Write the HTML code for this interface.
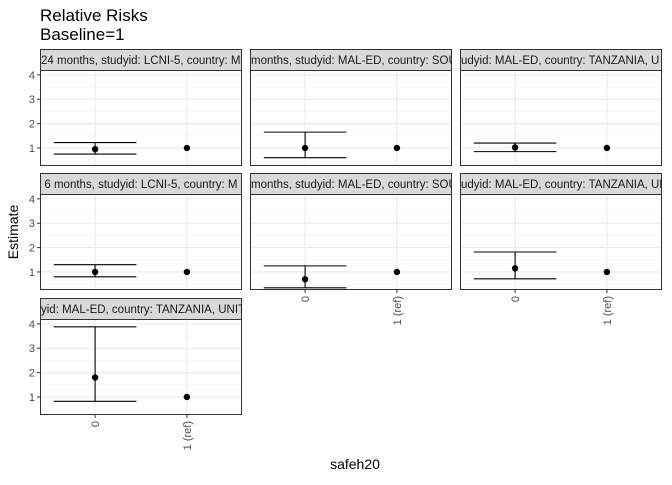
<!DOCTYPE html>
<html><head><meta charset="utf-8"><style>
body{margin:0;background:#fff;}
svg{font-family:"Liberation Sans",sans-serif;}
</style></head><body>
<svg id="c" width="672" height="480" xmlns="http://www.w3.org/2000/svg">
<text x="40" y="21" font-size="17" fill="#000">Relative Risks</text>
<text x="40" y="40" font-size="17" fill="#000">Baseline=1</text>
<text x="355" y="469" font-size="14" text-anchor="middle">safeh20</text>
<text transform="translate(18,232) rotate(-90)" font-size="14" text-anchor="middle">Estimate</text>
<g id="panels"></g>
</svg>
<script>
const stripLabels=["24 months, studyid: LCNI-5, country: M","months, studyid: MAL-ED, country: SOU","udyid: MAL-ED, country: TANZANIA, U","t 6 months, studyid: LCNI-5, country: M","months, studyid: MAL-ED, country: SOU","udyid: MAL-ED, country: TANZANIA, UN","yid: MAL-ED, country: TANZANIA, UNIT"];
const stripOffsets=[-2,-2,-2,-5,-2,-2,-2];
const categories=["0","1 (ref)"];
const estimates=[0.95,1.0,1.02,1.0,0.7,1.15,1.8];
const lowerCI=[0.75,0.6,0.85,0.8,0.35,0.72,0.82];
const upperCI=[1.22,1.65,1.2,1.3,1.25,1.82,3.88];
const refValues=[1,1,1,1,1,1,1];
const yTicks=[1,2,3,4];
const NS="http://www.w3.org/2000/svg";
const g=document.getElementById('panels');
function mk(t,a,p){const e=document.createElementNS(NS,t);for(const k in a)e.setAttribute(k,a[k]);(p||g).appendChild(e);return e;}
const colX=[40,250,460],rowY=[49,173,298],PW=202,SH=21,PH=96;
const yMin=0.26,yMax=4.2;
for(let i=0;i<7;i++){
  const c=i%3,r=Math.floor(i/3);
  const x0=colX[c],sy=rowY[r],py=sy+SH;
  const ys=v=>py+PH-(v-yMin)/(yMax-yMin)*PH;
  const xs=k=>x0+(k+1-0.4)/2.2*PW;
  const grp=mk('g',{});
  
  
  mk('rect',{x:x0,y:py,width:PW,height:PH,fill:'#fff'},grp);
  for(let t=0;t<yTicks.length;t++){
    const v=yTicks[t];
    mk('line',{x1:x0,x2:x0+PW,y1:ys(v),y2:ys(v),stroke:'#ebebeb','stroke-width':1.1},grp);
    mk('line',{x1:x0,x2:x0+PW,y1:ys(v-0.5),y2:ys(v-0.5),stroke:'#f3f3f3','stroke-width':0.6},grp);
    if(c===0){
      mk('line',{x1:x0-3,x2:x0,y1:ys(v),y2:ys(v),stroke:'#333'},grp);
      const tl=mk('text',{x:x0-5,y:ys(v)+4,'font-size':11,fill:'#4d4d4d','text-anchor':'end'},grp);
      tl.textContent=v;
      
      
    }
  }
  for(let k=0;k<categories.length;k++){
    mk('line',{x1:xs(k),x2:xs(k),y1:py,y2:py+PH,stroke:'#ebebeb','stroke-width':1.1},grp);
  }
  const xc=xs(0),hw=0.45*PW/2.2;
  const eb=mk('g',{stroke:'#000','stroke-width':1.1},grp);
  
  
  mk('line',{x1:xc-hw,x2:xc+hw,y1:ys(upperCI[i]),y2:ys(upperCI[i])},eb);
  mk('line',{x1:xc-hw,x2:xc+hw,y1:ys(lowerCI[i]),y2:ys(lowerCI[i])},eb);
  mk('line',{x1:xc,x2:xc,y1:ys(upperCI[i]),y2:ys(lowerCI[i])},eb);
  const p1=mk('circle',{cx:xc,cy:ys(estimates[i]),r:3.2,fill:'#000'},grp);
  
  
  const p2=mk('circle',{cx:xs(1),cy:ys(refValues[i]),r:3.2,fill:'#000'},grp);
  
  
  mk('rect',{x:x0+0.5,y:py,width:PW-1,height:PH-0.5,fill:'none',stroke:'#333','stroke-width':1},grp);
  const cp=mk('clipPath',{id:'cp'+i},grp);
  mk('rect',{x:x0,y:sy,width:PW,height:SH},cp);
  const st=mk('rect',{x:x0+0.5,y:sy+0.5,width:PW-1,height:SH,fill:'#d9d9d9',stroke:'#333','stroke-width':1},grp);
  
  
  const stt=mk('text',{x:x0+stripOffsets[i]+3,y:sy+15,'font-size':11.5,fill:'#1a1a1a','clip-path':'url(#cp'+i+')'},grp);
  stt.textContent=stripLabels[i];
  
  
  if(i>=4){
    for(let k=0;k<categories.length;k++){
      mk('line',{x1:xs(k),x2:xs(k),y1:py+PH,y2:py+PH+3,stroke:'#333'},grp);
      const xl=mk('text',{transform:'translate('+(xs(k)+4)+','+(py+PH+6)+') rotate(-90)','font-size':11,fill:'#4d4d4d','text-anchor':'end'},grp);
      xl.textContent=categories[k];
      
      
    }
  }
}
</script>
</body></html>
